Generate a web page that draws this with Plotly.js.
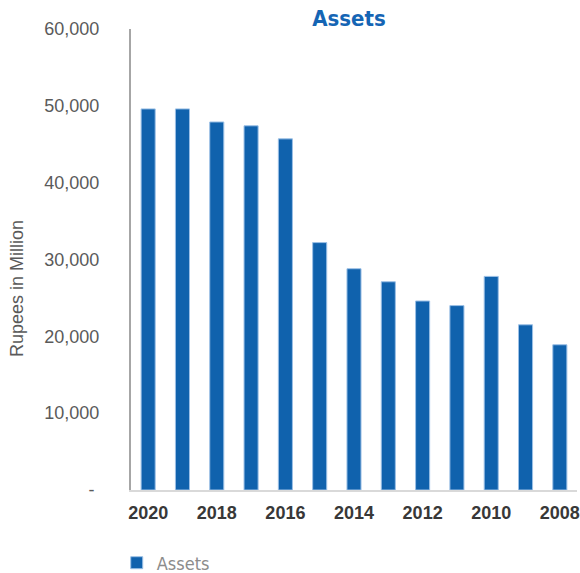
<!DOCTYPE html>
<html>
<head>
<meta charset="utf-8">
<script src="https://cdn.plot.ly/plotly-3.0.1.min.js"></script>
<style>html,body{margin:0;padding:0;background:#fff;}#chart{width:580px;height:573px;}</style>
</head>
<body>
<div id="chart"></div>
<script>
const years = ['2020','2019','2018','2017','2016','2015','2014','2013','2012','2011','2010','2009','2008'];
const assets = [49600, 49600, 47900, 47400, 45700, 32200, 28800, 27100, 24600, 24000, 27800, 21500, 18900];
const xTickVals = ['2020','2018','2016','2014','2012','2010','2008'];
const yTickVals = [0, 10000, 20000, 30000, 40000, 50000, 60000];
const yTickText = ['- ', '10,000', '20,000', '30,000', '40,000', '50,000', '60,000'];

const condensed = 'DejaVu Sans Condensed, Liberation Sans Narrow, Arial Narrow, sans-serif';

const trace = {
  type: 'bar',
  x: years,
  y: assets,
  name: 'Assets',
  marker: {color: '#1062ad', line: {color: '#9cc0e6', width: 1}},
  hoverinfo: 'x+y'
};

const layout = {
  width: 580, height: 573,
  margin: {l: 131, r: 3, t: 29, b: 83, autoexpand: false},
  paper_bgcolor: '#ffffff', plot_bgcolor: '#ffffff',
  bargap: 0.59,
  title: {
    text: '<b>Assets</b>',
    font: {family: condensed, size: 22, color: '#1565b4', stretch: 'condensed'},
    x: 349/580, xanchor: 'center', xref: 'container',
    y: 1 - 18/573, yanchor: 'middle', yref: 'container'
  },
  xaxis: {
    type: 'category',
    categoryorder: 'array', categoryarray: years,
    tickmode: 'array', tickvals: xTickVals, ticktext: xTickVals,
    showgrid: false, zeroline: false,
    showline: true, linecolor: '#d9d9d9', linewidth: 2,
    ticks: '', ticklabelstandoff: 5,
    tickfont: {family: 'Liberation Sans, Arial, sans-serif', size: 18, color: '#383838', weight: 'bold'}
  },
  yaxis: {
    range: [0, 60000],
    tickmode: 'array', tickvals: yTickVals, ticktext: yTickText,
    showgrid: false, zeroline: false,
    showline: true, linecolor: '#a6a6a6', linewidth: 2,
    ticks: '', ticklabelstandoff: 26,
    tickfont: {family: 'Liberation Sans, Arial, sans-serif', size: 18, color: '#5a5a5a'}
  },
  annotations: [{
    text: 'Rupees in Million',
    textangle: -90,
    xref: 'paper', yref: 'paper',
    x: (17 - 131) / 446, y: (490 - 288) / 461,
    xanchor: 'center', yanchor: 'middle',
    showarrow: false,
    font: {family: 'Liberation Sans, Arial, sans-serif', size: 18, color: '#5a5a5a'}
  }],
  showlegend: true,
  legend: {
    orientation: 'h', x: -0.032, xanchor: 'left', xref: 'paper',
    y: 10/573, yanchor: 'middle', yref: 'container',
    font: {family: condensed, size: 18, color: '#8c8c8c', stretch: 'condensed'},
    itemwidth: 30
  }
};

Plotly.newPlot('chart', [trace], layout, {displayModeBar: false, responsive: false});
</script>
</body>
</html>
